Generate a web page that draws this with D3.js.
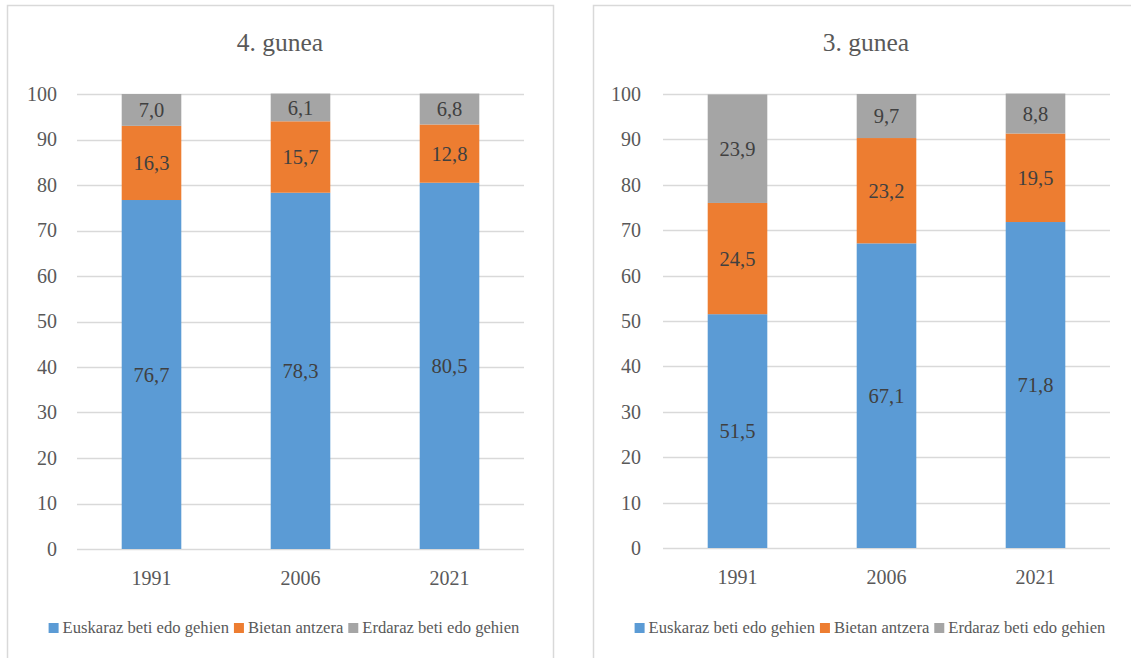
<!DOCTYPE html>
<html><head><meta charset="utf-8">
<script src="https://cdn.jsdelivr.net/npm/d3@7/dist/d3.min.js"></script>
<style>body{margin:0;background:#fff}svg{display:block}
svg text{font-family:"Liberation Serif","Times New Roman",serif !important;}</style>
</head><body>
<script>
const years = ["1991","2006","2021"];
const seriesNames = ["Euskaraz beti edo gehien","Bietan antzera","Erdaraz beti edo gehien"];
const colors = ["#5B9BD5","#ED7D31","#A5A5A5"];
const yTicks = [0,10,20,30,40,50,60,70,80,90,100];
const titleLeft = "4. gunea";
const euskarazLeft = [76.7,78.3,80.5];
const bietanLeft = [16.3,15.7,12.8];
const erdarazLeft = [7.0,6.1,6.8];
const titleRight = "3. gunea";
const euskarazRight = [51.5,67.1,71.8];
const bietanRight = [24.5,23.2,19.5];
const erdarazRight = [23.9,9.7,8.8];

const W=1131,H=658;
const FF = '"Liberation Serif", "Times New Roman", serif';
const svg = d3.select("body").append("svg").attr("width",W).attr("height",H);

function panel(cfg){
  const g = svg.append("g");
  const fw = 546;
  g.append("rect").attr("x",cfg.frameX+0.5).attr("y",5.5).attr("width",fw).attr("height",720)
    .attr("fill","#fff").attr("stroke","#d9d9d9").attr("stroke-width",1.5);
  const cx = cfg.frameX + fw/2;
  const x = d3.scaleBand().domain(years).range([cfg.x0,cfg.x1]).paddingInner(0.6).paddingOuter(0.3);
  const y = d3.scaleLinear().domain([0,100]).range([cfg.y0,94]);
  g.append("g").selectAll("line").data(yTicks).join("line")
    .attr("x1",cfg.x0).attr("x2",cfg.x1)
    .attr("y1",d=>Math.round(y(d))+0.5).attr("y2",d=>Math.round(y(d))+0.5)
    .attr("stroke","#d9d9d9").attr("stroke-width",1.5);
  const ya = g.append("g").attr("transform",`translate(${cfg.x0},0)`)
    .call(d3.axisLeft(y).tickValues(yTicks).tickSize(0).tickPadding(cfg.x0-cfg.labelRight));
  ya.attr("font-family",null);
  ya.select(".domain").remove();
  ya.selectAll("text").style("font-family",FF).attr("font-size",20).attr("fill","#595959");
  const xa = g.append("g").attr("transform",`translate(0,${cfg.y0})`)
    .call(d3.axisBottom(x).tickSize(0).tickPadding(22));
  xa.attr("font-family",null);
  xa.select(".domain").remove();
  xa.selectAll("text").style("font-family",FF).attr("font-size",20).attr("fill","#595959");
  const rows = years.map((yr,i)=>({year:yr, s0:cfg.a[i], s1:cfg.b[i], s2:cfg.c[i]}));
  const stack = d3.stack().keys(["s0","s1","s2"])(rows);
  stack.forEach((layer,li)=>{
    const lg = g.append("g");
    lg.selectAll("rect").data(layer).join("rect")
      .attr("x",d=>x(d.data.year)).attr("width",x.bandwidth())
      .attr("y",d=>y(d[1])).attr("height",d=>y(d[0])-y(d[1]))
      .attr("fill",colors[li]);
    lg.selectAll("text").data(layer).join("text")
      .attr("x",d=>x(d.data.year)+x.bandwidth()/2)
      .attr("y",d=>(y(d[0])+y(d[1]))/2)
      .attr("dy","0.35em").attr("text-anchor","middle")
      .style("font-family",FF).attr("font-size",20.5).attr("fill","#404040")
      .text(d=>d3.format(".1f")(d[1]-d[0]).replace(".",","));
  });
  g.append("text").attr("x",cx).attr("y",51).attr("text-anchor","middle")
    .style("font-family",FF).attr("font-size",25.5).attr("fill","#595959").text(cfg.title);
  const lgd = g.append("g");
  let off = 0;
  seriesNames.forEach((n,i)=>{
    const it = lgd.append("g").attr("transform",`translate(${off},0)`);
    it.append("rect").attr("x",0).attr("y",623).attr("width",10).attr("height",10).attr("fill",colors[i]);
    const t = it.append("text").attr("x",14).attr("y",633)
      .style("font-family",FF).attr("font-size",16.6).attr("fill","#595959").text(n);
    off += 14 + t.node().getComputedTextLength() + (i<2 ? 5 : 0);
  });
  lgd.attr("transform",`translate(${cx - off/2 + 4},0)`);
}

panel({frameX:7, x0:77, x1:524, y0:549, labelRight:57, title:titleLeft, a:euskarazLeft,b:bietanLeft,c:erdarazLeft});
panel({frameX:593, x0:663, x1:1110, y0:548, labelRight:641, title:titleRight, a:euskarazRight,b:bietanRight,c:erdarazRight});
</script>
</body></html>
